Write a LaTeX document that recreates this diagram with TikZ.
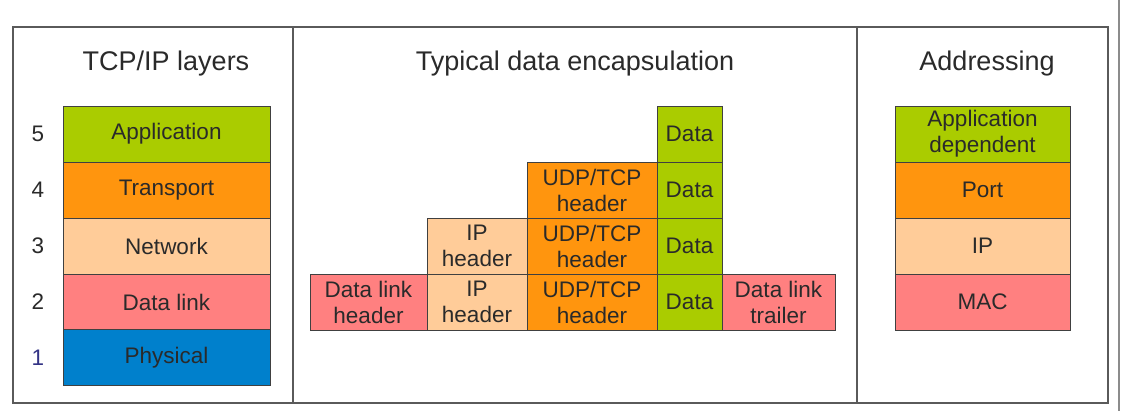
\documentclass[tikz,border=0pt]{standalone}
\usepackage{fontspec}
\setmainfont{Liberation Sans}
\definecolor{cgreen}{HTML}{AACC00}
\definecolor{corange}{HTML}{FF950E}
\definecolor{cpeach}{HTML}{FFCC99}
\definecolor{cpink}{HTML}{FF8080}
\definecolor{cblue}{HTML}{0080CC}
\definecolor{ctext}{HTML}{2A2A2A}
\definecolor{cframe}{HTML}{5A5A5A}
\tikzset{
  cell/.style={draw=black!75, line width=0.8pt, inner sep=0pt, outer sep=0pt, align=center,
    text=ctext, font=\fontsize{22.5}{26}\selectfont},
  ttl/.style={text=ctext, font=\fontsize{27}{30}\selectfont, inner sep=0pt, anchor=base},
  num/.style={text=ctext, font=\fontsize{22.5}{26}\selectfont, inner sep=0pt},
  frame/.style={draw=cframe, line width=1.5pt}
}
\begin{document}
\begin{tikzpicture}[x=1pt,y=-1pt]
\useasboundingbox[fill=white] (0,0) rectangle (1121,411);
\draw[frame] (13,27) rectangle (1108,403);
\draw[frame] (293,27) -- (293,403);
\draw[frame] (857,27) -- (857,403);
\draw[draw=black!45, line width=1.2pt] (1119,0) -- (1119,411);

% titles
\node[ttl] (t1) at (166,71) {TCP/IP layers};
\node[ttl] (t2) at (575,71) {Typical data encapsulation};
\node[ttl] (t3) at (987,71) {Addressing};

% left stack
\node[cell, fill=cgreen, minimum width=207pt, minimum height=56pt] (l5) at (166.5,134) {Application};
\node[cell, fill=corange, minimum width=207pt, minimum height=56pt] (l4) at (166.5,190) {Transport};
\node[cell, fill=cpeach, minimum width=207pt, minimum height=56pt] (l3) at (166.5,246) {Network};
\node[cell, fill=cpink, minimum width=207pt, minimum height=56pt] (l2) at (166.5,302) {Data link};
\node[cell, fill=cblue, minimum width=207pt, minimum height=56pt] (l1) at (166.5,357.5) {Physical};
\node[num] (n5) at (38,134) {5};
\node[num] (n4) at (38,190) {4};
\node[num] (n3) at (38,246) {3};
\node[num] (n2) at (38,302) {2};
\node[num, text=black!60!blue!80] (n1) at (38,357.5) {1};

% middle encapsulation
\node[cell, fill=cgreen, minimum width=65pt, minimum height=56pt] (d5) at (689.5,134) {Data};
\node[cell, fill=cgreen, minimum width=65pt, minimum height=56pt] (d4) at (689.5,190) {Data};
\node[cell, fill=cgreen, minimum width=65pt, minimum height=56pt] (d3) at (689.5,246) {Data};
\node[cell, fill=cgreen, minimum width=65pt, minimum height=56pt] (d2) at (689.5,302) {Data};
\node[cell, fill=corange, minimum width=130pt, minimum height=56pt] (u4) at (592,190) {UDP/TCP\\header};
\node[cell, fill=corange, minimum width=130pt, minimum height=56pt] (u3) at (592,246) {UDP/TCP\\header};
\node[cell, fill=corange, minimum width=130pt, minimum height=56pt] (u2) at (592,302) {UDP/TCP\\header};
\node[cell, fill=cpeach, minimum width=100pt, minimum height=56pt] (i3) at (477,246) {IP\\header};
\node[cell, fill=cpeach, minimum width=100pt, minimum height=56pt] (i2) at (477,302) {IP\\header};
\node[cell, fill=cpink, minimum width=117pt, minimum height=56pt] (dh) at (368.5,302) {Data link\\header};
\node[cell, fill=cpink, minimum width=113pt, minimum height=56pt] (dt) at (778.5,302) {Data link\\trailer};

% right addressing
\node[cell, fill=cgreen, minimum width=175pt, minimum height=56pt] (a5) at (982.5,134) {Application\\dependent};
\node[cell, fill=corange, minimum width=175pt, minimum height=56pt] (a4) at (982.5,190) {Port};
\node[cell, fill=cpeach, minimum width=175pt, minimum height=56pt] (a3) at (982.5,246) {IP};
\node[cell, fill=cpink, minimum width=175pt, minimum height=56pt] (a2) at (982.5,302) {MAC};
\end{tikzpicture}
\end{document}
